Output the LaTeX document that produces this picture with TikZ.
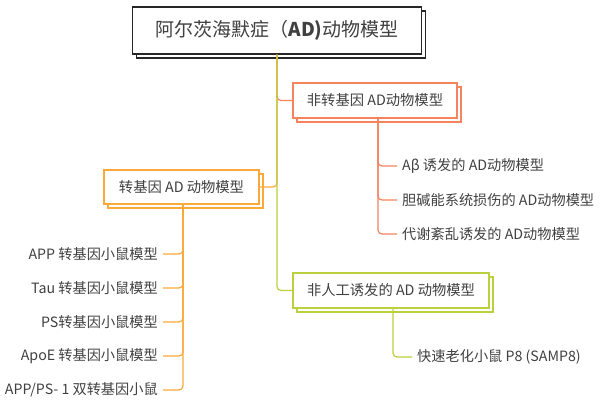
\documentclass[tikz,border=0pt]{standalone}
\usepackage{fontspec}
\setmainfont{Noto Sans CJK SC}
\usetikzlibrary{shadows}
\definecolor{salmon}{HTML}{F5835E}
\definecolor{amber}{HTML}{FBA93A}
\definecolor{lime}{HTML}{BCCF3E}
\definecolor{ink}{HTML}{404040}

\begin{document}
\begin{tikzpicture}[
  x=1pt, y=-1pt,
  topic/.style={draw=#1, fill=white, line width=1.2pt, minimum height=35pt, inner sep=0pt,
    font=\fontsize{14.3}{16}\selectfont, text=ink,
    copy shadow={shadow xshift=4pt, shadow yshift=-4pt, draw=#1, fill=white}},
  leaf/.style={inner sep=5pt, font=\fontsize{14.2}{16}\selectfont, text=ink},
  link/.style={line width=1.2pt, rounded corners=4pt}
]
  \useasboundingbox (0,0) rectangle (600,406);
  \node[topic=black!85, minimum width=289pt, minimum height=47pt, font=\fontsize{19}{22}\selectfont] (root) at (277,30.5) {阿尔茨海默症（\textbf{AD)}动物模型};
  \node[topic=salmon, minimum width=164pt] (nontg) at (375,100.5) {非转基因 AD动物模型};
  \node[topic=amber, minimum width=155pt, minimum height=34pt] (tg) at (181.5,187) {转基因 AD 动物模型};
  \node[topic=lime, minimum width=196pt] (nonart) at (391,290.5) {非人工诱发的 AD 动物模型};
  % leaves
  \node[leaf, anchor=west] (abeta) at (397,166) {Aβ 诱发的 AD动物模型};
  \node[leaf, anchor=west] (chol) at (397,200) {胆碱能系统损伤的 AD动物模型};
  \node[leaf, anchor=west] (metab) at (397,234) {代谢紊乱诱发的 AD动物模型};
  \node[leaf, anchor=east] (app) at (163,254) {APP 转基因小鼠模型};
  \node[leaf, anchor=east] (tau) at (163,288) {Tau 转基因小鼠模型};
  \node[leaf, anchor=east] (ps) at (163,322) {PS转基因小鼠模型};
  \node[leaf, anchor=east] (apoe) at (163,356) {ApoE 转基因小鼠模型};
  \node[leaf, anchor=east] (appps) at (163,390) {APP/PS- 1 双转基因小鼠};
  \node[leaf, anchor=west] (samp) at (412,357) {快速老化小鼠 P8 (SAMP8)};
  % connectors
  \draw[link, salmon] (root.south) |- (nontg.west);
  \draw[link, amber] (root.south) |- (tg.east);
  \draw[link, lime] (root.south) |- (nonart.west);
  \foreach \item in {abeta,chol,metab}
    \draw[link, salmon] ([xshift=3pt]nontg.south) |- (\item.west);
  \foreach \item in {app,tau,ps,apoe,appps}
    \draw[link, amber] ([xshift=1.5pt]tg.south) |- (\item.east);
  \draw[link, lime] ([xshift=2pt]nonart.south) |- (samp.west);
\end{tikzpicture}
\end{document}
